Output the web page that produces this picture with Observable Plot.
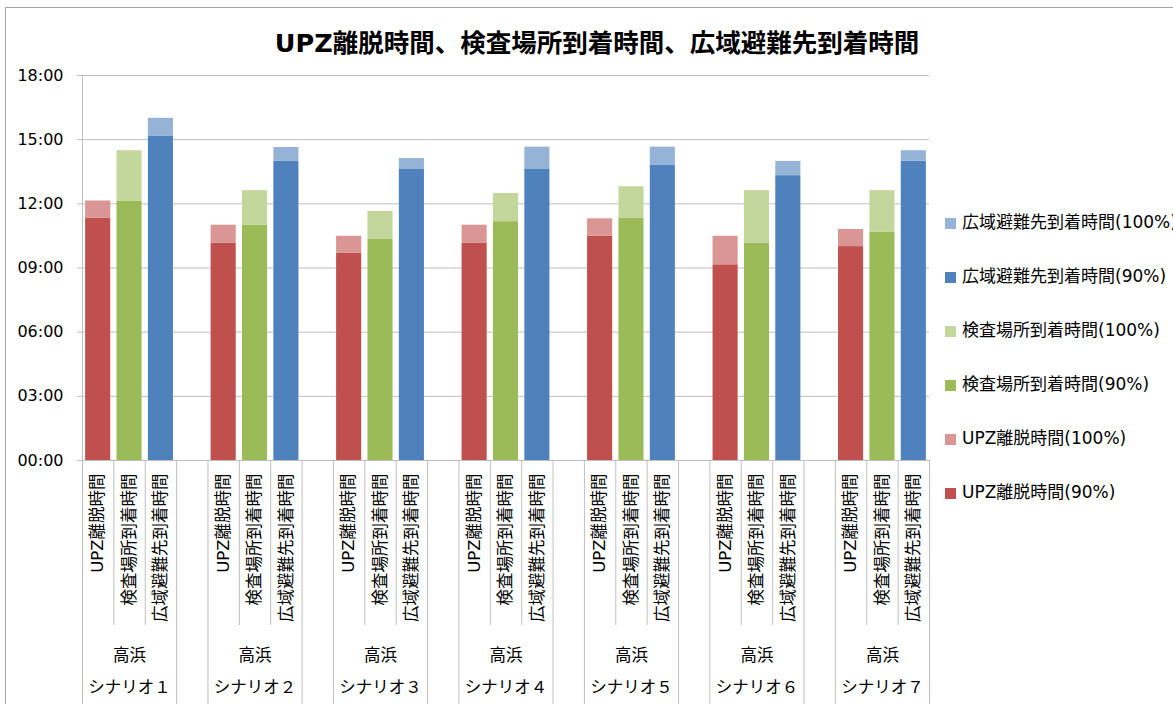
<!DOCTYPE html>
<html><head><meta charset="utf-8">
<script src="https://cdn.jsdelivr.net/npm/d3@7"></script>
<script src="https://cdn.jsdelivr.net/npm/@observablehq/plot@0.6"></script>
<style>
html,body{margin:0;padding:0;background:#fff;}
#wrap{position:relative;width:1173px;height:704px;overflow:hidden;font-family:"DejaVu Sans","Noto Sans CJK JP",sans-serif;}
#frame{position:absolute;left:5px;top:7px;width:1300px;height:800px;border-left:1.5px solid #a6a6a6;border-top:1.5px solid #a6a6a6;}
#title{position:absolute;left:0;top:27px;width:1194px;text-align:center;font-family:"DejaVu Sans","Noto Sans CJK JP",sans-serif;font-weight:bold;font-size:25.5px;line-height:32px;color:#000;}
#chart{position:absolute;left:0;top:0;}
#legend{position:absolute;left:945px;top:0;}
.li{position:absolute;left:0;white-space:nowrap;font-size:17px;line-height:20px;color:#000;}
.sw{display:inline-block;width:11px;height:11px;margin-right:6px;vertical-align:-1px;}
</style>
</head><body>
<div id="wrap">
  <div id="frame"></div>
  <div id="title"></div>
  <div id="chart"></div>
  <div id="legend"></div>
</div>
<script>
const titleText = "UPZ離脱時間、検査場所到着時間、広域避難先到着時間";
const scenarios = ["シナリオ１","シナリオ２","シナリオ３","シナリオ４","シナリオ５","シナリオ６","シナリオ７"];
const site = "高浜";
const categories = ["UPZ離脱時間","検査場所到着時間","広域避難先到着時間"];
const yTickLabels = ["00:00","03:00","06:00","09:00","12:00","15:00","18:00"];

// values (HH:MM)
const upz90   = ["11:20","10:09","09:41","10:09","10:29","09:09","10:00"];
const upz100  = ["12:08","11:00","10:29","11:00","11:18","10:29","10:48"];
const insp90  = ["12:08","11:00","10:20","11:10","11:19","10:09","10:40"];
const insp100 = ["14:29","12:37","11:39","12:29","12:48","12:37","12:37"];
const wide90  = ["15:09","13:59","13:38","13:38","13:49","13:19","14:00"];
const wide100 = ["16:00","14:38","14:07","14:39","14:39","13:59","14:29"];

const seriesNames = ["広域避難先到着時間(100%)","広域避難先到着時間(90%)","検査場所到着時間(100%)","検査場所到着時間(90%)","UPZ離脱時間(100%)","UPZ離脱時間(90%)"];
const seriesColors = ["#95B3D7","#4F81BD","#C3D69B","#9BBB59","#D99694","#C0504D"];

const toH = s => { const [h, m] = s.split(":").map(Number); return h + m / 60; };

const v90 = [upz90, insp90, wide90];
const v100 = [upz100, insp100, wide100];
const name90 = ["UPZ離脱時間(90%)","検査場所到着時間(90%)","広域避難先到着時間(90%)"];
const name100 = ["UPZ離脱時間(100%)","検査場所到着時間(100%)","広域避難先到着時間(100%)"];

const bars = [];
const labels = [];
scenarios.forEach((sc, g) => {
  categories.forEach((cat, c) => {
    const slot = g * 4 + c;
    const a = toH(v90[c][g]), b = toH(v100[c][g]);
    bars.push({slot, y1: 0, y2: a, series: name90[c]});
    bars.push({slot, y1: a, y2: b, series: name100[c]});
    labels.push({slot, text: cat});
  });
});
const groups = scenarios.map((sc, g) => ({center: g * 4 + 1.5, sc}));
const fullSeps = [];
const shortSeps = [];
scenarios.forEach((sc, g) => {
  if (g > 0) fullSeps.push(g * 4);
  fullSeps.push(g * 4 + 3);
  shortSeps.push(g * 4 + 1, g * 4 + 2);
});
const yTicks = yTickLabels.map(toH);

const ff = '"DejaVu Sans","Noto Sans CJK JP",sans-serif';
const grid = "#bfbfbf";

const plot = Plot.plot({
  width: 1173, height: 704,
  marginLeft: 82, marginRight: 244, marginTop: 75, marginBottom: 244,
  x: {domain: [0, 27], axis: null},
  y: {domain: [0, 18], axis: null},
  color: {domain: seriesNames, range: seriesColors},
  style: {fontFamily: ff, fontSize: "16px", color: "#000", background: "transparent", overflow: "visible"},
  marks: [
    Plot.ruleY(yTicks, {stroke: grid, strokeWidth: 1}),
    Plot.axisY({ticks: yTicks, tickFormat: (d, i) => yTickLabels[i], tickSize: 5, tickPadding: 14, stroke: grid, fill: "#000", fontSize: 16, label: null}),
    Plot.rectY(bars, {x1: d => d.slot + 0.1, x2: d => d.slot + 0.9, y1: "y1", y2: "y2", fill: "series"}),
    Plot.ruleX([0], {stroke: grid, insetBottom: -244}),
    Plot.ruleX(fullSeps, {x: d => d, stroke: grid, insetTop: 385, insetBottom: -244}),
    Plot.ruleX(shortSeps, {x: d => d, stroke: grid, insetTop: 385, insetBottom: -165}),
    Plot.text(labels, {x: d => d.slot + 0.5, y: 0, text: "text", rotate: -90, textAnchor: "end", dy: 13, fontSize: 16.5, fill: "#000"}),
    Plot.text(groups, {x: "center", y: 0, text: () => site, dy: 195, fontSize: 16.5, fill: "#000"}),
    Plot.text(groups, {x: "center", y: 0, text: "sc", dy: 227, fontSize: 16.5, fill: "#000"})
  ]
});
document.getElementById("chart").appendChild(plot);
document.getElementById("title").textContent = titleText;

const legendTops = [212, 266, 320, 374, 428, 482];
const lg = document.getElementById("legend");
seriesNames.forEach((n, i) => {
  const d = document.createElement("div");
  d.className = "li";
  d.style.top = legendTops[i] + "px";
  const s = document.createElement("span");
  s.className = "sw";
  s.style.background = seriesColors[i];
  d.appendChild(s);
  d.appendChild(document.createTextNode(n));
  lg.appendChild(d);
});
</script>
</body></html>
